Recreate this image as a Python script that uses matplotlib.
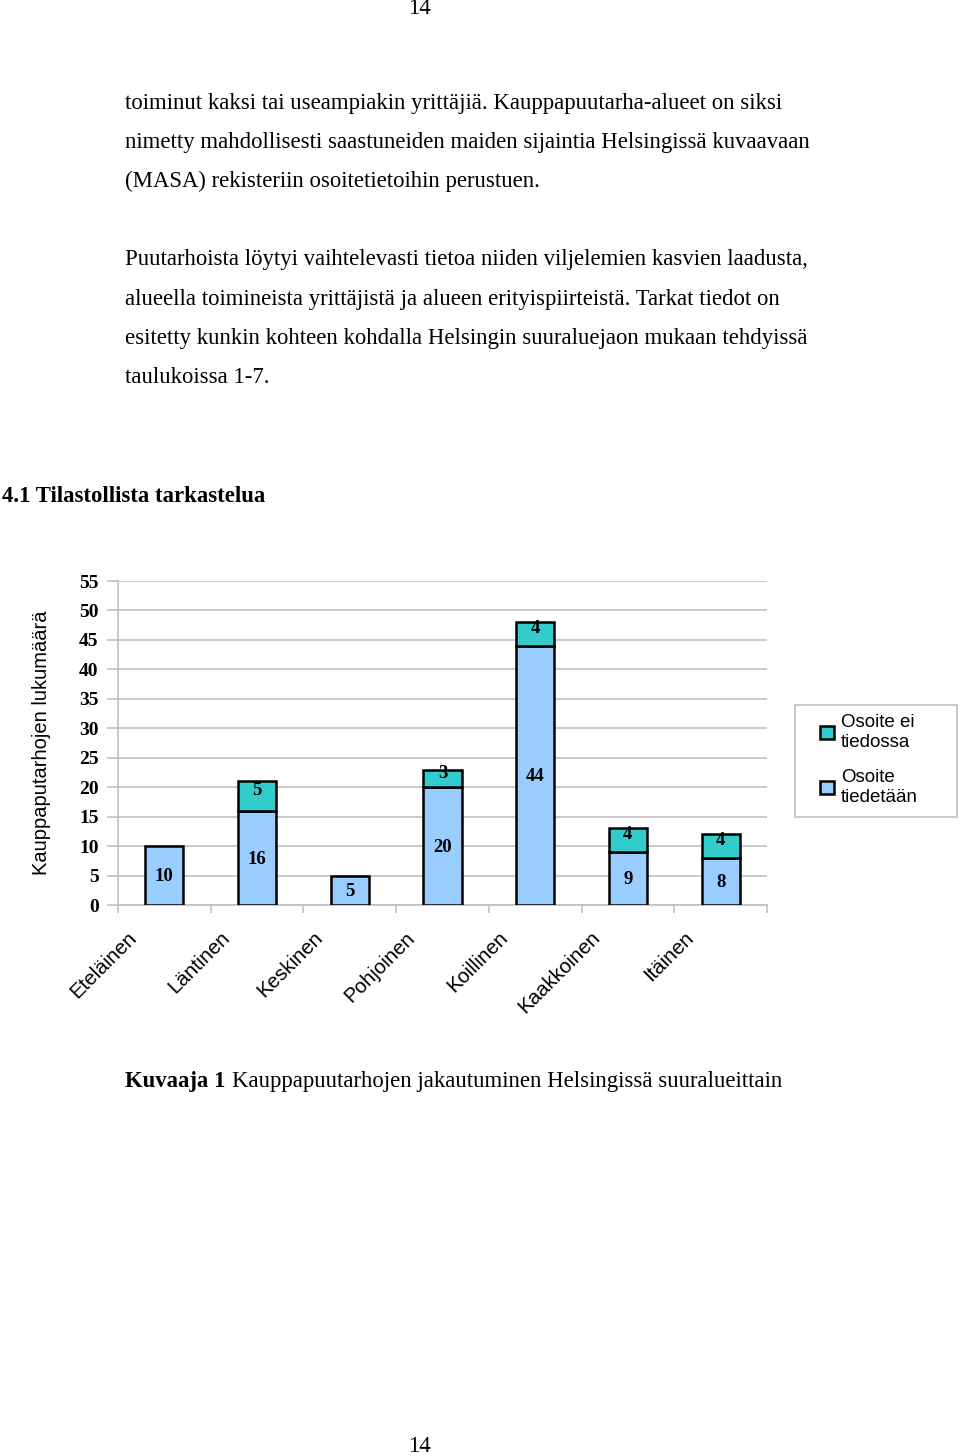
#Kauppapuutarhat suuralueittain - pinottu pylväskaavio sivun tekstin kanssa
import numpy as np
import matplotlib.pyplot as plt
from matplotlib.patches import Rectangle
from matplotlib.transforms import ScaledTranslation

#Data
alueet = ['Eteläinen', 'Läntinen', 'Keskinen', 'Pohjoinen', 'Koillinen', 'Kaakkoinen', 'Itäinen']
tiedetaan = [10, 16, 5, 20, 44, 9, 8]   #Osoite tiedetään
ei_tiedossa = [0, 5, 0, 3, 4, 4, 4]     #Osoite ei tiedossa
y_ticks = [0, 5, 10, 15, 20, 25, 30, 35, 40, 45, 50, 55]

body_1 = ["toiminut kaksi tai useampiakin yrittäjiä. Kauppapuutarha-alueet on siksi",
          "nimetty mahdollisesti saastuneiden maiden sijaintia Helsingissä kuvaavaan",
          "(MASA) rekisteriin osoitetietoihin perustuen."]
body_2 = ["Puutarhoista löytyi vaihtelevasti tietoa niiden viljelemien kasvien laadusta,",
          "alueella toimineista yrittäjistä ja alueen erityispiirteistä. Tarkat tiedot on",
          "esitetty kunkin kohteen kohdalla Helsingin suuraluejaon mukaan tehdyissä",
          "taulukoissa 1-7."]

W, H = 960, 1456
fig = plt.figure(figsize=(9.6, 14.56), dpi=100)
serif = 'Liberation Serif'
sans = 'Liberation Sans'
fs_text = 16.4

def fy(py):
    return 1 - py / H

#Page text
fig.text(419 / W, fy(9), '14', family=serif, fontsize=fs_text, ha='center', va='center')
for i, line in enumerate(body_1):
    fig.text(125 / W, fy(103 + 39.2 * i), line, family=serif, fontsize=fs_text, va='center')
for i, line in enumerate(body_2):
    fig.text(125 / W, fy(260 + 39.3 * i), line, family=serif, fontsize=fs_text, va='center')
fig.text(2 / W, fy(497), '4.1 Tilastollista tarkastelua', family=serif, fontsize=fs_text,
         fontweight='bold', va='center')
fig.text(125 / W, fy(1081), 'Kuvaaja 1', family=serif, fontsize=fs_text, fontweight='bold', va='center')
fig.text(232 / W, fy(1081), 'Kauppapuutarhojen jakautuminen Helsingissä suuralueittain',
         family=serif, fontsize=fs_text, va='center')
fig.text(419 / W, fy(1446), '14', family=serif, fontsize=fs_text, ha='center', va='center')

#Chart
ax = fig.add_axes([118 / W, fy(905), (767 - 118) / W, (905 - 581) / H])
x = np.arange(len(alueet))
bw = 0.41
light_blue = '#99ccff'
teal = '#33cccc'

b1 = ax.bar(x, tiedetaan, bw, color=light_blue, edgecolor='black', linewidth=1.8,
            label='Osoite\ntiedetään', zorder=3)
top_vals = np.array(ei_tiedossa, dtype=float)
b2 = ax.bar(x[top_vals > 0], top_vals[top_vals > 0], bw,
            bottom=np.array(tiedetaan)[top_vals > 0], color=teal, edgecolor='black',
            linewidth=1.8, label='Osoite ei\ntiedossa', zorder=3)

#Value labels
for xi, v in zip(x, tiedetaan):
    ax.text(xi, v / 2 - 0.2, str(v), ha='center', va='center', family=serif,
            fontweight='bold', fontsize=13.5, zorder=4)
for xi, b, v in zip(x, tiedetaan, ei_tiedossa):
    if v > 0:
        ax.text(xi, b + v / 2 + 0.9, str(v), ha='center', va='center', family=serif,
                fontweight='bold', fontsize=13.5, zorder=4)

ax.set_xlim(-0.5, len(alueet) - 0.5)
ax.set_ylim(0, 55)
ax.set_yticks(y_ticks)
ax.set_yticklabels([str(t) for t in y_ticks], family=serif, fontweight='bold', fontsize=14)
ax.yaxis.grid(True, color='#c0c0c0', linewidth=1.2, zorder=0)
ax.set_axisbelow(True)
ax.tick_params(axis='y', length=8, color='#c0c0c0', width=1.2, pad=6)

#Category boundary ticks
ax.set_xticks(np.arange(-0.5, len(alueet) + 0.5, 1))
ax.set_xticklabels([])
ax.tick_params(axis='x', length=6, color='#c0c0c0', width=1.2)
for xi, name in zip(x, alueet):
    ax.text(xi, 0, name, rotation=45, ha='right', va='top', rotation_mode='anchor',
            family=sans, fontsize=14.8,
            transform=ax.get_xaxis_transform() + ScaledTranslation(-0.37, -0.23, fig.dpi_scale_trans))

for s in ['top', 'right']:
    ax.spines[s].set_visible(False)
ax.spines['left'].set_color('#c0c0c0')
ax.spines['bottom'].set_color('#c0c0c0')
ax.spines['left'].set_linewidth(1.2)
ax.spines['bottom'].set_linewidth(1.2)

ax.set_ylabel('Kauppaputarhojen lukumäärä', family=sans, fontsize=14.5)
ax.yaxis.set_label_coords((51 - 118) / (767 - 118), 0.5)

#Legend with a separate frame
fig.patches.append(Rectangle((795 / W, fy(817)), 162 / W, 112 / H, transform=fig.transFigure,
                             facecolor='white', edgecolor='#c0c0c0', linewidth=1.2, zorder=1))
leg = fig.legend(handles=[b2, b1], loc='upper left', bbox_to_anchor=(810 / W, fy(704)),
                 borderaxespad=0, frameon=False,
                 prop={'family': sans, 'size': 13.5}, handlelength=0.75, handleheight=0.75,
                 handletextpad=0.35, borderpad=0.55, labelspacing=0.98)
leg.set_zorder(2)

fig.savefig('out.png', dpi=100)
